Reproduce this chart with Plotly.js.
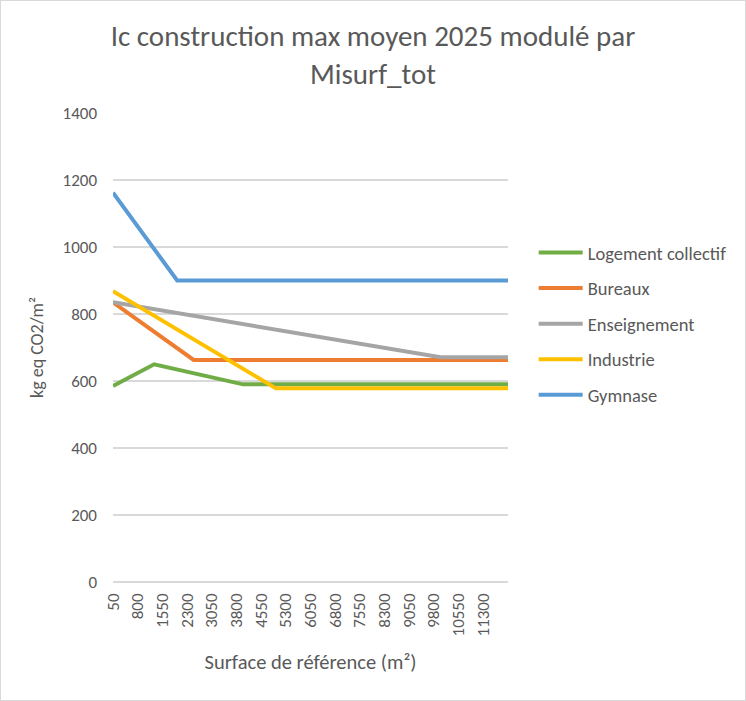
<!DOCTYPE html>
<html>
<head>
<meta charset="utf-8">
<script src="https://cdn.plot.ly/plotly-3.0.1.min.js"></script>
<style>
html,body{margin:0;padding:0;background:#fff;}
#chart{width:744px;height:699px;border:1px solid #d9d9d9;}
</style>
</head>
<body>
<div id="chart"></div>
<script>
// Data (breakpoints of each piecewise-linear series), x = Surface de référence (m²)
const seriesNames = ["Logement collectif", "Bureaux", "Enseignement", "Industrie", "Gymnase"];
const logementX = [50, 1300, 4000, 12050];
const logementY = [585, 650, 590, 590];
const bureauxX = [50, 2500, 12050];
const bureauxY = [835, 663, 663];
const enseignementX = [50, 10000, 12050];
const enseignementY = [835, 671, 671];
const industrieX = [50, 5000, 12050];
const industrieY = [868, 578, 578];
const gymnaseX = [50, 2000, 12050];
const gymnaseY = [1162, 900, 900];
const tickLabels = [50, 800, 1550, 2300, 3050, 3800, 4550, 5300, 6050, 6800, 7550, 8300, 9050, 9800, 10550, 11300];
const colors = ["#70AD47", "#ED7D31", "#A5A5A5", "#FFC000", "#5B9BD5"];

const xs = [logementX, bureauxX, enseignementX, industrieX, gymnaseX];
const ys = [logementY, bureauxY, enseignementY, industrieY, gymnaseY];

const font = "Carlito, 'Open Sans', 'Noto Sans', sans-serif";
const grey = "#595959";

const traces = seriesNames.map((n, i) => ({
  type: "scatter", mode: "lines", name: n,
  x: xs[i], y: ys[i],
  legendgroup: "g" + i,
  line: {color: colors[i], width: 4}
}));

const layout = {
  width: 744, height: 699,
  margin: {l: 112, r: 237, t: 112, b: 118},
  paper_bgcolor: "#fff", plot_bgcolor: "#fff",
  font: {family: font, color: grey, size: 16},
  title: {text: "Ic construction max moyen 2025 modulé par<br>Misurf_tot",
          font: {size: 29, color: grey, family: font},
          x: 0.5, xanchor: "center", y: 0.935, yanchor: "top"},
  showlegend: true,
  legend: {x: 1.065, xanchor: "left", y: 0.742, yanchor: "top",
           font: {size: 18.5, color: grey, family: font},
           itemwidth: 44,
           tracegroupgap: 8.5, bgcolor: "rgba(0,0,0,0)"},
  xaxis: {
    range: [50, 12050], tickmode: "array", tickvals: tickLabels,
    ticktext: tickLabels.map(String), tickangle: -90,
    showgrid: false, zeroline: false, showline: false, ticks: "",
    ticklabelstandoff: 7,
    tickfont: {size: 17, color: grey},
    title: {text: "Surface de référence (m²)", font: {size: 20.5, color: grey}, standoff: 19}
  },
  yaxis: {
    range: [0, 1400], dtick: 200, tick0: 0,
    showgrid: true, gridcolor: "#d9d9d9", gridwidth: 1.3,
    zeroline: true, zerolinecolor: "#d9d9d9", zerolinewidth: 1.3,
    showline: false, ticks: "", ticklabelstandoff: 15,
    tickfont: {size: 17, color: grey},
    title: {text: "kg eq CO2/m²", font: {size: 18, color: grey}, standoff: 14}
  }
};

Plotly.newPlot("chart", traces, layout, {displayModeBar: false, staticPlot: true});
</script>
</body>
</html>
